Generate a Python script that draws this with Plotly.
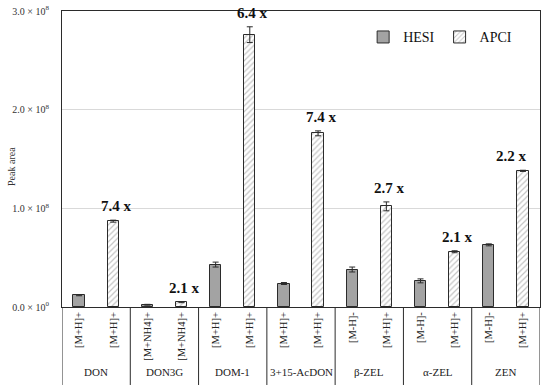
import plotly.graph_objects as go

groups = ["DON", "DON3G", "DOM-1", "3+15-AcDON", "β-ZEL", "α-ZEL", "ZEN"]
hesi_ions = ["[M+H]+", "[M+NH4]+", "[M+H]+", "[M+H]+", "[M-H]-", "[M-H]-", "[M-H]-"]
apci_ions = ["[M+H]+", "[M+NH4]+", "[M+H]+", "[M+H]+", "[M+H]+", "[M+H]+", "[M+H]+"]
hesi_vals = [1.18e7, 2.3e6, 4.3e7, 2.38e7, 3.8e7, 2.65e7, 6.3e7]
hesi_err = [0.4e6, 0.4e6, 2.5e6, 1.0e6, 2.5e6, 2.0e6, 1.0e6]
apci_vals = [8.7e7, 4.8e6, 2.76e8, 1.76e8, 1.02e8, 5.6e7, 1.38e8]
apci_err = [1.0e6, 0.4e6, 8.0e6, 2.5e6, 4.5e6, 1.0e6, 0.6e6]
ratios = ["7.4 x", "2.1 x", "6.4 x", "7.4 x", "2.7 x", "2.1 x", "2.2 x"]
y_tickvals = [0, 1e8, 2e8, 3e8]
y_ticktext = ["0.0 × 10<sup>0</sup>", "1.0 × 10<sup>8</sup>", "2.0 × 10<sup>8</sup>", "3.0 × 10<sup>8</sup>"]

FONT = "Liberation Serif, Times New Roman, serif"
LINE = "#2b2b2b"

n = len(groups)
hesi_x = [2 * i for i in range(n)]
apci_x = [2 * i + 1 for i in range(n)]

fig = go.Figure()
fig.add_trace(go.Bar(
    x=hesi_x, y=hesi_vals, name="HESI", width=0.33,
    marker=dict(color="#a3a3a3", line=dict(color=LINE, width=1)),
    error_y=dict(type="data", array=hesi_err, color=LINE, thickness=1, width=3),
))
fig.add_trace(go.Bar(
    x=apci_x, y=apci_vals, name="APCI", width=0.33,
    marker=dict(color="white", line=dict(color=LINE, width=1),
                pattern=dict(shape="/", fgcolor="#8a8a8a", bgcolor="white", size=4, solidity=0.3)),
    error_y=dict(type="data", array=apci_err, color=LINE, thickness=1, width=3),
))

ticks_x = []
ticks_t = []
for i in range(n):
    ticks_x += [hesi_x[i], apci_x[i]]
    ticks_t += [hesi_ions[i], apci_ions[i]]

annotations = []
for i in range(n):
    annotations.append(dict(
        x=apci_x[i], y=apci_vals[i] + apci_err[i], xref="x", yref="y",
        text="<b>" + ratios[i] + "</b>", showarrow=False, yanchor="bottom", yshift=4,
        xshift=(-11 if i == n - 1 else 3),
        font=dict(family=FONT, size=15, color="#111")))
    annotations.append(dict(
        x=2 * i + 0.5, y=-0.22, xref="x", yref="paper", text=groups[i],
        showarrow=False, yanchor="middle",
        font=dict(family=FONT, size=11, color="#222")))
annotations.append(dict(
    x=-50 / 478, y=0.473, xref="paper", yref="paper", text="Peak area",
    showarrow=False, textangle=-90, xanchor="center", yanchor="middle",
    font=dict(family=FONT, size=10, color="#333")))

shapes = []
bottom = -0.2635
for k in range(n + 1):
    xv = 2 * k - 0.5
    shapes.append(dict(type="line", xref="x", yref="paper", x0=xv, x1=xv,
                       y0=bottom, y1=0, line=dict(color=LINE, width=1)))

fig.update_layout(
    width=550, height=389,
    margin=dict(l=62, r=10, t=11, b=82),
    plot_bgcolor="white", paper_bgcolor="white",
    bargap=0,
    showlegend=True,
    legend=dict(orientation="h", x=0.63, y=0.965, xanchor="left", yanchor="top",
                font=dict(family=FONT, size=14, color="#111"), bgcolor="rgba(0,0,0,0)",
                itemwidth=30, traceorder="normal"),
    xaxis=dict(range=[-0.5, 2 * n - 0.5], tickvals=ticks_x, ticktext=ticks_t, tickangle=-90,
               showline=True, linecolor=LINE, linewidth=1, mirror=True, showgrid=False,
               ticks="", tickfont=dict(family=FONT, size=10.5, color="#222"), zeroline=False,
               automargin=False),
    yaxis=dict(range=[0, 3e8], tickvals=y_tickvals, ticktext=y_ticktext,
               showline=True, linecolor=LINE, linewidth=1, mirror=True,
               showgrid=True, gridcolor="#d9d9d9", gridwidth=1, zeroline=False,
               ticks="", ticklabelstandoff=10, tickfont=dict(family=FONT, size=10, color="#333"),
               automargin=False),
    annotations=annotations,
    shapes=shapes,
)

fig.write_html("out.html", config={"displayModeBar": False},
               post_script="document.body.style.margin='0';")
